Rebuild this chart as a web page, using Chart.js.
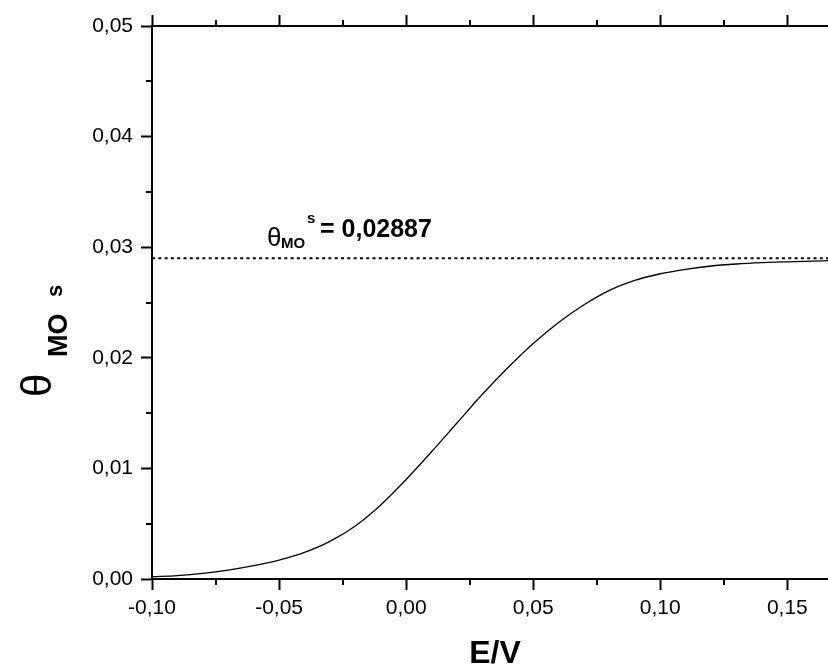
<!DOCTYPE html>
<html><head><meta charset="utf-8">
<script src="https://cdn.jsdelivr.net/npm/chart.js@4.4.1/dist/chart.umd.min.js"></script>
<style>html,body{margin:0;padding:0;background:#fff}#wrap{width:828px;height:665px;position:relative}</style>
</head><body><div id="wrap"><canvas id="c" width="828" height="665"></canvas></div>
<script>
// ---- data ----
const potentials = [-0.10,-0.09,-0.08,-0.07,-0.06,-0.05,-0.04,-0.03,-0.02,-0.01,0.00,0.01,0.02,0.03,0.04,0.05,0.06,0.07,0.08,0.09,0.10,0.11,0.12,0.13,0.14,0.15,0.16,0.166];
const coverage   = [0.0002,0.0003,0.0005,0.0008,0.0012,0.0017,0.0024,0.0034,0.0048,0.0067,0.0090,0.0115,0.0141,0.0167,0.0191,0.0213,0.0232,0.0248,0.0261,0.0270,0.0276,0.0280,0.0283,0.02848,0.0286,0.02868,0.02875,0.02878];
const saturationLevel = 0.029;
const saturationText = '= 0,02887';
const xRange = [-0.10, 0.166];
const yRange = [0.00, 0.05];
const xMajorTicks = [-0.10,-0.05,0.00,0.05,0.10,0.15];
const xMinorTicks = [-0.075,-0.025,0.025,0.075,0.125];
const yMajorTicks = [0.00,0.01,0.02,0.03,0.04,0.05];
const yMinorTicks = [0.005,0.015,0.025,0.035,0.045];
const xTitle = 'E/V';

const FONT = "'Liberation Sans', Arial, sans-serif";
const fmt = v => (Math.round(v*100)/100).toFixed(2).replace('.', ',').replace('-0,00','0,00');

const curve = potentials.map((e,i)=>({x:e, y:coverage[i]}));
const satLine = [{x:xRange[0], y:saturationLevel},{x:xRange[1], y:saturationLevel}];

const extras = {
  id:'extras',
  afterDraw(chart){
    const {ctx, chartArea:a, scales:{x, y}} = chart;
    ctx.save();
    ctx.strokeStyle = '#000'; ctx.lineWidth = 2;
    ctx.beginPath();
    xMinorTicks.forEach(v=>{
      const px = Math.round(x.getPixelForValue(v));
      ctx.moveTo(px, a.bottom); ctx.lineTo(px, a.bottom+6);
      ctx.moveTo(px, a.top); ctx.lineTo(px, a.top-6);
    });
    yMinorTicks.forEach(v=>{
      const py = Math.round(y.getPixelForValue(v));
      ctx.moveTo(a.left, py); ctx.lineTo(a.left-6, py);
    });
    ctx.stroke();
    ctx.fillStyle = '#000';
    // x title
    ctx.font = "bold 32px " + FONT;
    ctx.textAlign = 'center'; ctx.textBaseline = 'alphabetic';
    ctx.fillText(xTitle, 495, 663);
    // annotation
    ctx.textAlign = 'left';
    ctx.font = "26px " + FONT; ctx.fillText('\u03B8', 267, 246);
    ctx.font = "bold 15px " + FONT; ctx.fillText('MO', 281, 248);
    ctx.font = "bold 15px " + FONT; ctx.fillText('s', 307, 223);
    ctx.font = "bold 25px " + FONT; ctx.fillText(saturationText, 320, 237);
    // y title (rotated)
    ctx.save();
    ctx.translate(51, 397);
    ctx.rotate(-Math.PI/2);
    ctx.font = "42px " + FONT; ctx.fillText('\u03B8', 0, 0);
    ctx.font = "bold 27px " + FONT; ctx.fillText('MO', 40, 16);
    ctx.font = "bold 22px " + FONT; ctx.fillText('s', 100, 11);
    ctx.restore();
    ctx.restore();
  }
};

new Chart(document.getElementById('c'), {
  type:'line',
  data:{datasets:[
    {data:curve, borderColor:'#000', borderWidth:1.3, pointRadius:0, cubicInterpolationMode:'monotone', fill:false},
    {data:satLine, borderColor:'#000', borderWidth:2, borderDash:[3,3.3], pointRadius:0, fill:false}
  ]},
  options:{
    responsive:false, devicePixelRatio:1, animation:false,
    layout:{padding:0},
    plugins:{legend:{display:false}, tooltip:{enabled:false}},
    scales:{
      x:{type:'linear', position:'bottom', min:xRange[0], max:xRange[1],
        afterBuildTicks:s=>{s.ticks = xMajorTicks.map(v=>({value:v}));},
        afterFit:s=>{s.height = 86;},
        grid:{display:true, drawOnChartArea:false, drawTicks:true, tickLength:11, tickColor:'#000', tickWidth:2},
        border:{display:true, color:'#000', width:2},
        ticks:{callback:v=>fmt(v), color:'#000', font:{family:FONT, size:21}, padding:6, maxRotation:0, autoSkip:false}
      },
      x2:{type:'linear', position:'top', min:xRange[0], max:xRange[1],
        afterBuildTicks:s=>{s.ticks = xMajorTicks.map(v=>({value:v}));},
        afterFit:s=>{s.height = 26;},
        grid:{display:true, drawOnChartArea:false, drawTicks:true, tickLength:11, tickColor:'#000', tickWidth:2},
        border:{display:true, color:'#000', width:2},
        ticks:{display:false}
      },
      y:{type:'linear', position:'left', min:yRange[0], max:yRange[1],
        afterBuildTicks:s=>{s.ticks = yMajorTicks.map(v=>({value:v}));},
        afterFit:s=>{s.width = 152;},
        grid:{display:true, drawOnChartArea:false, drawTicks:true, tickLength:11, tickColor:'#000', tickWidth:2},
        border:{display:true, color:'#000', width:2},
        ticks:{callback:v=>fmt(v), color:'#000', font:{family:FONT, size:21}, padding:8}
      }
    }
  },
  plugins:[extras]
});
</script>
</body></html>
